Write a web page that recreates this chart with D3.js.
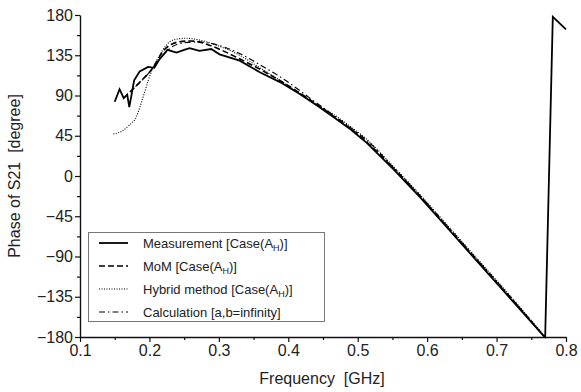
<!DOCTYPE html>
<html lang="en">
<head>
    <meta charset="utf-8">
    <title>Phase of S21</title>
    <script src="https://d3js.org/d3.v7.min.js"></script>
    <style>
        body { margin: 0; background: #fff; }
        text { font-family: "Liberation Sans", Arial, sans-serif; fill: #222; }
    </style>
</head>
<body>
<svg width="581" height="392"></svg>
<script>
    // data
    var measFreq  = [0.150,0.157,0.163,0.168,0.171,0.178,0.186,0.198,0.207,0.214,0.226,0.239,0.250,0.258,0.272,0.289,0.301,0.330,0.359,0.388,0.416,0.443,0.465,0.490,0.513,0.551,0.590,0.628,0.667,0.705,0.744,0.768,0.770,0.781,0.800];
    var measPhase = [83,97,87,91,77,107,117,122,121,130,141,138,141,143,140,142,136,129,116,105,92,78,66,52,37,8,-24,-57,-91,-124,-158,-179,-180,178,164];

    var momFreq  = [0.172,0.180,0.190,0.200,0.210,0.219,0.229,0.243,0.260,0.280,0.300,0.330,0.360,0.400,0.443,0.465,0.490,0.513,0.551,0.590,0.628,0.667,0.705,0.744,0.768];
    var momPhase = [94,100,108,116,127,139,146,150,151,148,142,131,119,101,79,67,53,38,9,-23,-56,-90,-123,-157,-179];

    var hybFreq  = [0.148,0.160,0.170,0.181,0.190,0.198,0.205,0.214,0.224,0.234,0.253,0.272,0.301,0.330,0.359,0.388,0.441,0.465,0.490,0.513,0.551,0.590,0.628,0.667,0.705,0.744,0.768];
    var hybPhase = [47,50,56,66,86,106,121,134,146,152,154,152,145,135,121,107,80,69,55,41,11,-21,-54,-88,-121,-156,-178];

    var calcFreq  = [0.180,0.200,0.215,0.230,0.250,0.270,0.290,0.330,0.360,0.390,0.440,0.465,0.490,0.513,0.551,0.590,0.628,0.667,0.705,0.744,0.768];
    var calcPhase = [100,116,131,143,149,150,148,137,124,110,82,68,54,40,10,-22,-55,-89,-122,-157,-179];

    var xTicks = [0.1,0.2,0.3,0.4,0.5,0.6,0.7,0.8];
    var yTicks = [-180,-135,-90,-45,0,45,90,135,180];

    var series = [
        {name:"Measurement [Case(A", sub:"H", tail:")]", f:measFreq, p:measPhase, dash:null, w:1.8, smooth:false},
        {name:"MoM [Case(A", sub:"H", tail:")]", f:momFreq, p:momPhase, dash:"6,3", w:1.6, smooth:true},
        {name:"Hybrid method [Case(A", sub:"H", tail:")]", f:hybFreq, p:hybPhase, dash:"1,1.5", w:1.1, smooth:true},
        {name:"Calculation [a,b=infinity]", sub:"", tail:"", f:calcFreq, p:calcPhase, dash:"6,3,1.5,3", w:1.1, smooth:true}
    ];

    var svg = d3.select("svg");
    var marge = {top:15, left:80, right:15, bottom:55};

    var x = d3.scaleLinear().domain([0.1,0.8]).range([marge.left, 566]);
    var y = d3.scaleLinear().domain([-180,180]).range([337, marge.top]);

    // minor ticks
    svg.append("g")
        .attr("transform","translate(0,337)")
        .call(d3.axisBottom(x).tickValues(d3.range(0.15,0.8,0.1)).tickSize(3).tickFormat(""))
        .call(function(g){ g.select(".domain").remove(); });
    svg.append("g")
        .attr("transform","translate("+marge.left+",0)")
        .call(d3.axisLeft(y).tickValues(d3.range(-157.5,180,45)).tickSize(3).tickFormat(""))
        .call(function(g){ g.select(".domain").remove(); });

    svg.append("g")
        .attr("transform","translate(0,337)")
        .call(d3.axisBottom(x).tickValues(xTicks).tickSize(5).tickSizeOuter(0).tickPadding(3).tickFormat(d3.format(".1f")));
    svg.append("g")
        .attr("transform","translate("+marge.left+",0)")
        .call(d3.axisLeft(y).tickValues(yTicks).tickSize(5).tickSizeOuter(0).tickPadding(2));

    svg.selectAll(".tick line").attr("stroke","#111").attr("stroke-width",1.2);
    svg.selectAll(".domain").attr("stroke","#111").attr("stroke-width",1.4);
    svg.selectAll(".tick text").attr("font-size",16).attr("fill","#222")
        .attr("font-family","'Liberation Sans', Arial, sans-serif");

    // axis titles
    svg.append("text")
        .attr("x",322).attr("y",384)
        .attr("text-anchor","middle")
        .attr("font-size",16)
        .attr("xml:space","preserve")
        .text("Frequency  [GHz]");
    svg.append("text")
        .attr("transform","translate(20,176) rotate(-90)")
        .attr("text-anchor","middle")
        .attr("font-size",16)
        .attr("xml:space","preserve")
        .text("Phase of S21  [degree]");

    series.forEach(function(s){
        var line = d3.line()
            .x(function(d){ return x(d[0]); })
            .y(function(d){ return y(d[1]); })
            .curve(s.smooth ? d3.curveMonotoneX : d3.curveLinear);
        svg.append("path")
            .attr("d", line(d3.zip(s.f, s.p)))
            .attr("fill","none")
            .attr("stroke","#000")
            .attr("stroke-width", s.w)
            .attr("stroke-dasharray", s.dash);
    });

    // legend
    var lg = svg.append("g");
    lg.append("rect")
        .attr("x",88.5).attr("y",232.5).attr("width",236).attr("height",89)
        .attr("fill","#fff").attr("stroke","#777").attr("stroke-width",1);
    series.forEach(function(s,i){
        var yy = 243 + i*23;
        lg.append("line")
            .attr("x1",99).attr("x2",128).attr("y1",yy).attr("y2",yy)
            .attr("stroke","#000").attr("stroke-width",s.w)
            .attr("stroke-dasharray",s.dash);
        var t = lg.append("text")
            .attr("x",143).attr("y",yy+4.5)
            .attr("font-size",13);
        t.append("tspan").text(s.name);
        if (s.sub) {
            t.append("tspan").attr("font-size",9).attr("dy",3).text(s.sub);
            t.append("tspan").attr("dy",-3).text(s.tail);
        }
    });
</script>
</body>
</html>
